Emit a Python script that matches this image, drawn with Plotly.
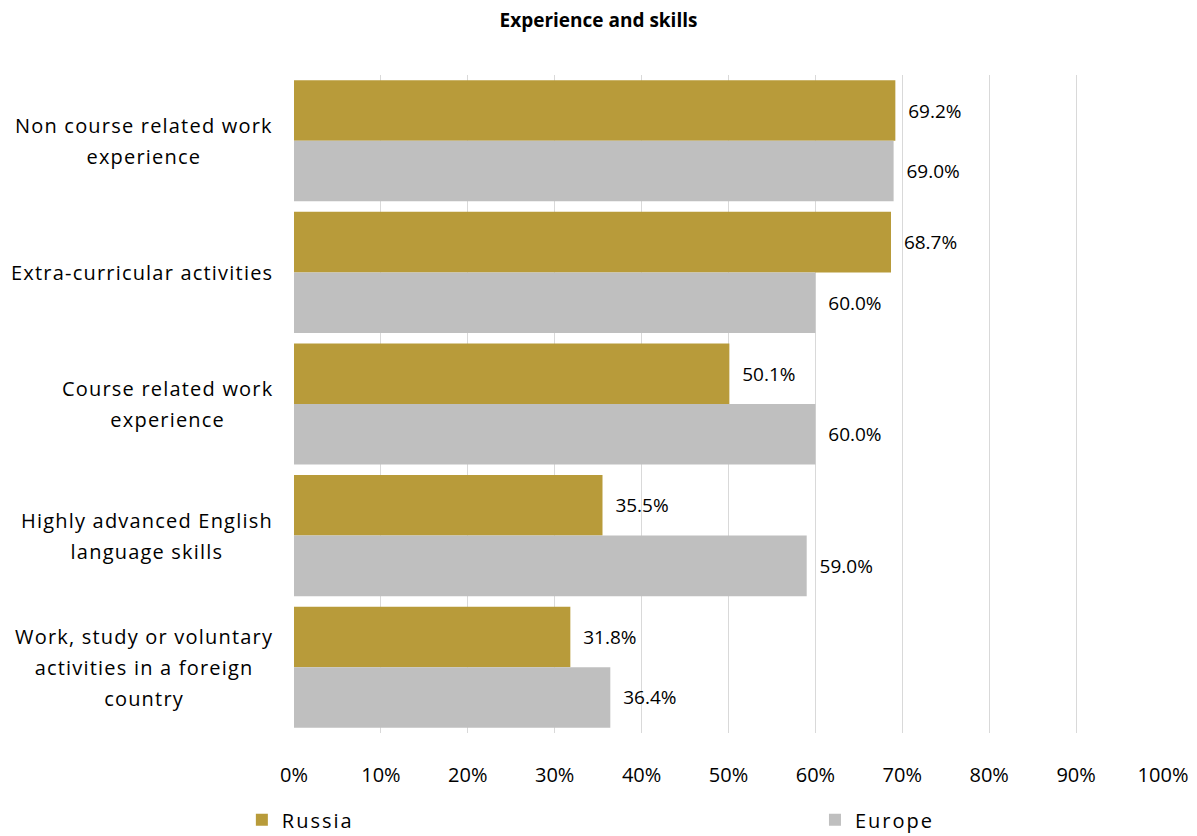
import plotly.graph_objects as go

# Survey results: share of respondents citing each item
categories = [
    "Non course related work experience",
    "Extra-curricular activities",
    "Course related work experience",
    "Highly advanced English language skills",
    "Work, study or voluntary activities in a foreign country",
]
category_labels = [
    "Non course related work<br>experience",
    "Extra-curricular activities",
    "Course related work<br>experience",
    "Highly advanced English<br>language skills",
    "Work, study or voluntary<br>activities in a foreign<br>country",
]
russia = [69.2, 68.7, 50.1, 35.5, 31.8]
europe = [69.0, 60.0, 60.0, 59.0, 36.4]
x_ticks = [0, 10, 20, 30, 40, 50, 60, 70, 80, 90, 100]
x_tick_labels = ["0%", "10%", "20%", "30%", "40%", "50%", "60%", "70%", "80%", "90%", "100%"]

FONT = "Open Sans"
GOLD = "#B89B3A"
GREY = "#BFBFBF"

fig = go.Figure()
series = [("Russia", russia, GOLD, "legend", -0.06), ("Europe", europe, GREY, "legend2", 0.5995)]
for name, vals, color, leg, _ in series:
    fig.add_trace(go.Bar(
        name=f"<span style='letter-spacing:2px'>{name}</span>",
        y=categories,
        x=vals,
        orientation="h",
        marker=dict(color=color, line=dict(width=0)),
        text=[f"\u00a0\u00a0{v:.1f}%" for v in vals],
        textposition="outside",
        textfont=dict(family=FONT, size=19, color="#000000"),
        cliponaxis=False,
        hoverinfo="skip",
        legend=leg,
    ))

# Category labels: centred lines, right-aligned blocks
for cat, lab in zip(categories, category_labels):
    lines = lab.split("<br>")
    styled = "<br>".join(
        f"<span style='font-size:20px;letter-spacing:1.2px'>{ln}</span>" for ln in lines
    )
    fig.add_annotation(
        x=-0.022, xref="paper", xanchor="right",
        y=cat, yref="y", yanchor="middle",
        text=styled, showarrow=False, align="center",
        font=dict(family=FONT, size=24, color="#000000"),
    )

legend_style = dict(orientation="h", y=-0.132, yanchor="middle", xanchor="left",
                    font=dict(family=FONT, size=20, color="#000000"),
                    bgcolor="rgba(0,0,0,0)")

fig.update_layout(
    width=1197, height=836,
    margin=dict(l=294, r=34, t=75, b=103, autoexpand=False),
    paper_bgcolor="white", plot_bgcolor="white",
    barmode="group", bargap=0.08, bargroupgap=0,
    title=dict(text="<b>Experience and skills</b>", x=0.5, xanchor="center",
               y=1 - 20 / 836, yanchor="middle",
               font=dict(family=FONT, size=19, color="#000000")),
    xaxis=dict(range=[0, 100], tickvals=x_ticks, ticktext=x_tick_labels,
               showgrid=True, gridcolor="#D9D9D9", gridwidth=1,
               zeroline=False, showline=False, ticks="",
               tickfont=dict(family=FONT, size=20, color="#000000"),
               ticklabelstandoff=28),
    yaxis=dict(categoryorder="array", categoryarray=categories,
               autorange="reversed", showticklabels=False, ticks="",
               showgrid=False, zeroline=False, showline=False),
    legend=dict(x=series[0][4], **legend_style),
    legend2=dict(x=series[1][4], **legend_style),
    showlegend=True,
)

fig.write_html("out.html")
